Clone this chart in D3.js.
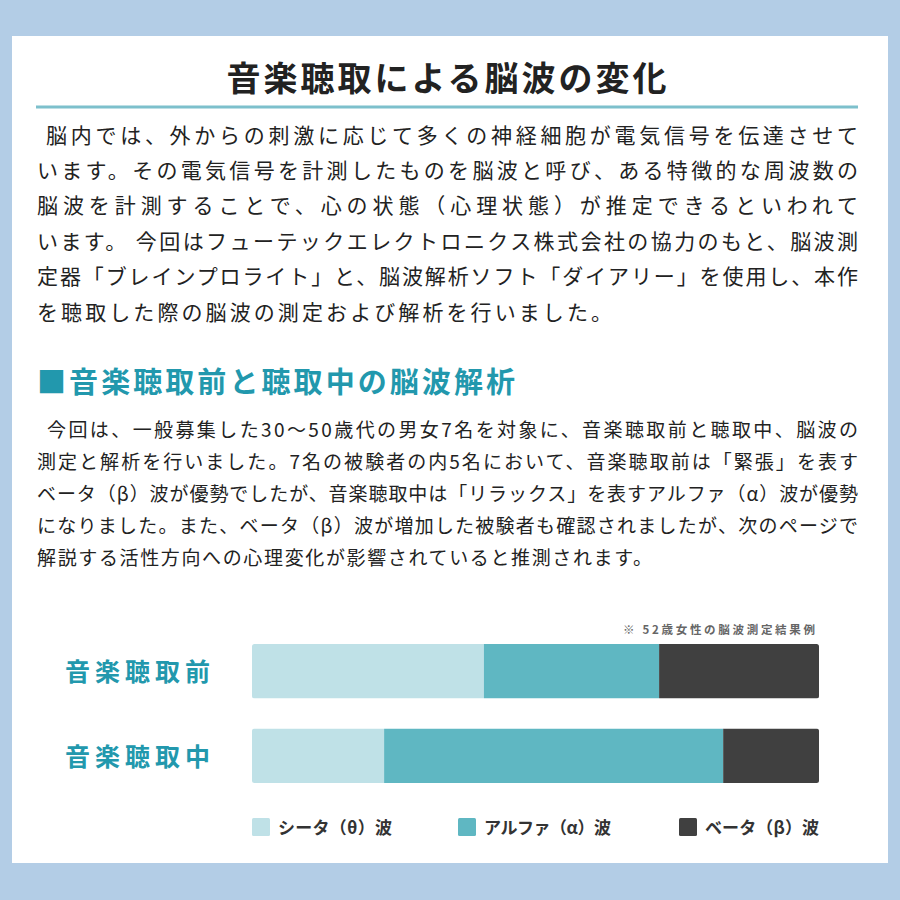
<!DOCTYPE html>
<html><head><meta charset="utf-8">
<script src="https://cdn.jsdelivr.net/npm/d3@7"></script>
<style>
html,body{margin:0;padding:0;background:#b3cde6;}
svg{display:block;}
text{font-family:"Noto Sans CJK JP","Noto Sans",sans-serif;}
</style></head>
<body>
<svg id="c" width="900" height="900"></svg>
<script>
// ---- data ----
const categories = ["音楽聴取前", "音楽聴取中"];
const seriesKeys = ["theta", "alpha", "beta"];
const seriesLabels = ["シータ（θ）波", "アルファ（α）波", "ベータ（β）波"];
const thetaValues = [40.9, 23.3];
const alphaValues = [30.9, 59.8];
const betaValues = [28.2, 16.9];
const titleText = "音楽聴取による脳波の変化";
const para1 = [
  "脳内では、外からの刺激に応じて多くの神経細胞が電気信号を伝達させて",
  "います。その電気信号を計測したものを脳波と呼び、ある特徴的な周波数の",
  "脳波を計測することで、心の状態（心理状態）が推定できるといわれて",
  "います。 今回はフューテックエレクトロニクス株式会社の協力のもと、脳波測",
  "定器「ブレインプロライト」と、脳波解析ソフト「ダイアリー」を使用し、本作",
  "を聴取した際の脳波の測定および解析を行いました。"
];
const headingText = "■音楽聴取前と聴取中の脳波解析";
const para2 = [
  "今回は、一般募集した30〜50歳代の男女7名を対象に、音楽聴取前と聴取中、脳波の",
  "測定と解析を行いました。7名の被験者の内5名において、音楽聴取前は「緊張」を表す",
  "ベータ（β）波が優勢でしたが、音楽聴取中は「リラックス」を表すアルファ（α）波が優勢",
  "になりました。また、ベータ（β）波が増加した被験者も確認されましたが、次のページで",
  "解説する活性方向への心理変化が影響されていると推測されます。"
];
const noteText = "※ 52歳女性の脳波測定結果例";

// ---- drawing ----
const svg = d3.select("#c");
const colors = d3.scaleOrdinal().domain(seriesKeys).range(["#bfe1e7", "#5fb7c2", "#404040"]);
const teal = "#2298ad";

svg.append("rect").attr("x", 12).attr("y", 36).attr("width", 876).attr("height", 827).attr("fill", "#ffffff");

svg.append("text").attr("x", 448).attr("y", 91).attr("text-anchor", "middle")
  .attr("font-size", 34).attr("font-weight", 700).attr("fill", "#222")
  .attr("letter-spacing", 3).text(titleText);

svg.append("line").attr("x1", 36).attr("x2", 858).attr("y1", 107).attr("y2", 107)
  .attr("stroke", "#7dc0cc").attr("stroke-width", 3);

const p1y = [143, 178, 213, 249, 284, 320];
svg.append("g").selectAll("text").data(para1).join("text")
  .attr("x", (d, i) => i === 0 ? 46 : 37)
  .attr("y", (d, i) => p1y[i])
  .attr("font-size", 21).attr("fill", "#222")
  .attr("textLength", (d, i) => i === 0 ? 812 : (i === para1.length - 1 ? 575 : 821))
  .attr("lengthAdjust", "spacing")
  .text(d => d);

svg.append("text").attr("x", 37).attr("y", 393)
  .attr("font-size", 29).attr("font-weight", 700).attr("fill", teal)
  .attr("textLength", 478).attr("lengthAdjust", "spacing").text(headingText);

const p2y = [437, 469, 501, 533, 565];
svg.append("g").selectAll("text").data(para2).join("text")
  .attr("x", (d, i) => i === 0 ? 47 : 37)
  .attr("y", (d, i) => p2y[i])
  .attr("font-size", 19).attr("fill", "#222")
  .attr("textLength", (d, i) => i === 0 ? 811 : (i === para2.length - 1 ? 615 : 821))
  .attr("lengthAdjust", "spacing")
  .text(d => d);

svg.append("text").attr("x", 623).attr("y", 634)
  .attr("font-size", 11.5).attr("font-weight", 700).attr("fill", "#666")
  .attr("textLength", 192).attr("lengthAdjust", "spacing").text(noteText);

// bars
const table = categories.map((c, i) => ({cat: c, theta: thetaValues[i], alpha: alphaValues[i], beta: betaValues[i]}));
const stacked = d3.stack().keys(seriesKeys)(table);
const x = d3.scaleLinear().domain([0, 100]).range([252, 819]);
const y = d3.scaleBand().domain(categories).range([644, 783]).paddingInner(0.355).paddingOuter(0);

const defs = svg.append("defs");
categories.forEach((c, i) => {
  defs.append("clipPath").attr("id", "clip" + i).append("rect")
    .attr("x", x(0)).attr("y", y(c)).attr("width", x(100) - x(0)).attr("height", y.bandwidth()).attr("rx", 2.5);
});

const barG = svg.append("g");
stacked.forEach(layer => {
  barG.append("g").attr("fill", colors(layer.key)).selectAll("rect").data(layer).join("rect")
    .attr("clip-path", (d, i) => "url(#clip" + i + ")")
    .attr("x", d => x(d[0]))
    .attr("y", d => y(d.data.cat))
    .attr("width", d => x(d[1]) - x(d[0]))
    .attr("height", y.bandwidth());
});

svg.append("g").selectAll("text").data(categories).join("text")
  .attr("x", 65).attr("y", d => y(d) + y.bandwidth() / 2 + 10)
  .attr("font-size", 25).attr("font-weight", 700).attr("fill", teal)
  .attr("textLength", 145).attr("lengthAdjust", "spacing")
  .text(d => d);

// legend
const legX = [252, 458, 679];
const legW = [114, 127, 114];
const leg = svg.append("g").selectAll("g").data(seriesKeys).join("g")
  .attr("transform", (d, i) => `translate(${legX[i]},818)`);
leg.append("rect").attr("width", 18).attr("height", 18).attr("rx", 1.5).attr("fill", d => colors(d));
leg.append("text").attr("x", 26).attr("y", 15.5)
  .attr("font-size", 17).attr("font-weight", 700).attr("fill", "#333")
  .attr("textLength", (d, i) => legW[i]).attr("lengthAdjust", "spacing")
  .text((d, i) => seriesLabels[i]);
</script>
</body></html>
